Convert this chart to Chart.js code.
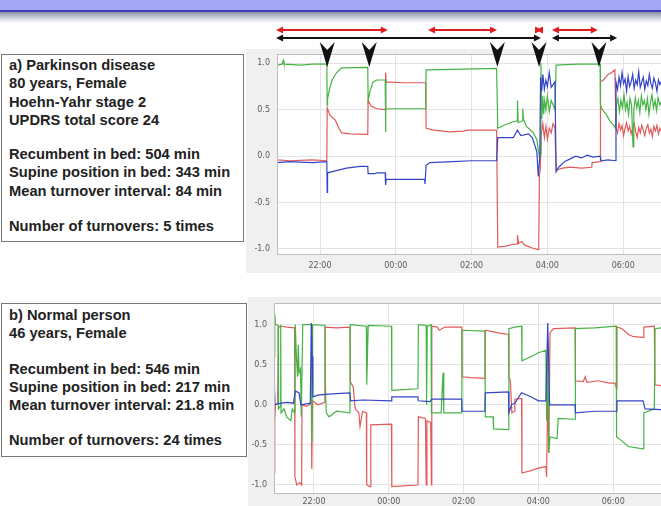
<!DOCTYPE html>
<html>
<head>
<meta charset="utf-8">
<script src="https://cdn.jsdelivr.net/npm/chart.js@4"></script>
<style>
  html, body { margin: 0; padding: 0; width: 661px; height: 506px; overflow: hidden; background: #fff; }
  body { position: relative; font-family: "Liberation Sans", Arial, sans-serif; }
  #titlebar { position: absolute; left: 0; top: 0; width: 661px; height: 10px; background: #a4a7f6; border-bottom: 2px solid #3c3cb4; }
  #shade { position: absolute; left: 0; top: 12px; width: 661px; height: 11px; background: linear-gradient(#8d90a3, #c9cddb 50%, #fff); }
  .box { position: absolute; border: 1px solid #7a7a7a; background: #fff; box-sizing: border-box; padding-left: 7px;
         font-weight: bold; font-size: 14.7px; color: #222; }
  .box div { height: 18.3px; line-height: 18.3px; white-space: nowrap; }
  .box .gap { height: 16px; }
  .panel { position: absolute; background: #f0f0f0; }
  canvas { position: absolute; }
</style>
</head>
<body>
<div id="titlebar"></div>
<div id="shade"></div>

<div class="box" style="left:1px; top:54px; width:243px; height:188px; padding-top:1px;">
  <div>a) Parkinson disease</div>
  <div>80 years, Female</div>
  <div>Hoehn-Yahr stage 2</div>
  <div>UPDRS total score 24</div>
  <div class="gap"></div>
  <div>Recumbent in bed: 504 min</div>
  <div>Supine position in bed: 343 min</div>
  <div>Mean turnover interval: 84 min</div>
  <div class="gap" style="height:17px"></div>
  <div>Number of turnovers: 5 times</div>
</div>

<div class="box" style="left:1px; top:303px; width:246px; height:154px; padding-top:2px;">
  <div>b) Normal person</div>
  <div>46 years, Female</div>
  <div class="gap" style="height:17px"></div>
  <div>Recumbent in bed: 546 min</div>
  <div>Supine position in bed: 217 min</div>
  <div>Mean turnover interval: 21.8 min</div>
  <div class="gap" style="height:17px"></div>
  <div>Number of turnovers: 24 times</div>
</div>

<div class="panel" style="left:246px; top:49px; width:420px; height:224px;"></div>
<div class="panel" style="left:248px; top:297px; width:420px; height:215px;"></div>

<canvas id="chartA" width="426" height="254" style="left:244px; top:20px;"></canvas>
<canvas id="chartB" width="426" height="216" style="left:244px; top:290px;"></canvas>

<script>
// time is in hours from the first midnight: 24 = 00:00, 26 = 02:00 ...
const hourTicks = [22, 24, 26, 28, 30];
const hourLabels = ['22:00', '00:00', '02:00', '04:00', '06:00'];
const valueTicks = [-1, -0.5, 0, 0.5, 1];

// a) Parkinson disease  [hour, value]
const aRed = [
  [20.86, 0.65], [20.87, -0.04], [21.2, -0.05], [21.8, -0.04], [22.18, -0.05], [22.19, 0.52], [22.26, 0.44],
  [22.4, 0.39], [22.5, 0.3], [22.57, 0.25], [22.8, 0.24], [23.26, 0.235], [23.27, 0.6], [23.35, 0.54],
  [23.5, 0.51], [23.72, 0.5], [23.73, 0.9], [23.75, 0.8], [24.2, 0.79], [24.79, 0.79], [24.8, 0.3],
  [25.0, 0.28], [25.43, 0.26], [25.78, 0.27], [25.9, 0.28], [26.66, 0.28], [26.69, -0.98], [26.9, -0.97],
  [27.1, -0.95], [27.2, -0.95], [27.21, -0.85], [27.24, -0.94], [27.32, -0.92], [27.4, -0.96], [27.6, -0.99],
  [27.77, -1.01], [27.79, -0.2], [27.81, -0.15], [27.84, 0.25], [27.88, 0.35], [27.92, 0.2], [27.96, 0.32],
  [28.0, 0.18], [28.05, 0.3], [28.1, 0.25], [28.15, 0.35], [28.2, 0.3], [28.23, -0.15], [28.4, -0.13],
  [28.6, -0.12], [28.9, -0.13], [29.17, -0.12], [29.18, -0.07], [29.39, -0.06], [29.4, 0.8], [29.48, 0.82],
  [29.6, 0.88], [29.7, 0.9], [29.78, 0.93], [29.81, 0.3], [29.85, 0.25], [29.89, 0.35], [29.93, 0.28],
  [29.97, 0.33], [30.01, 0.22], [30.05, 0.3], [30.09, 0.36], [30.13, 0.27], [30.17, 0.32], [30.21, 0.24],
  [30.25, 0.3], [30.29, 0.35], [30.33, 0.26], [30.37, 0.2], [30.41, 0.31], [30.45, 0.25], [30.49, 0.33],
  [30.53, 0.28], [30.57, 0.22], [30.61, 0.3], [30.65, 0.34], [30.69, 0.25], [30.73, 0.29], [30.77, 0.21],
  [30.81, 0.32], [30.85, 0.27], [30.89, 0.33], [30.93, 0.24], [30.97, 0.3], [31.0, 0.27]
];
const aGreen = [
  [20.86, 0.73], [20.87, 0.98], [21.0, 0.99], [21.03, 1.03], [21.05, 0.99], [21.5, 0.98], [21.8, 0.99],
  [22.18, 0.99], [22.19, 0.55], [22.2, 0.62], [22.25, 0.72], [22.32, 0.82], [22.44, 0.9], [22.57, 0.95],
  [23.26, 0.955], [23.27, 0.6], [23.32, 0.7], [23.4, 0.8], [23.5, 0.82], [23.72, 0.82], [23.73, 0.26],
  [23.74, 0.51], [24.2, 0.51], [24.79, 0.51], [24.8, 0.93], [25.5, 0.935], [26.66, 0.945], [26.69, 0.3],
  [26.9, 0.34], [27.1, 0.37], [27.2, 0.38], [27.21, 0.6], [27.23, 0.36], [27.34, 0.38], [27.35, 0.51],
  [27.37, 0.4], [27.45, 0.32], [27.63, 0.25], [27.72, 0.18], [27.79, -0.01], [27.81, 0.02], [27.83, 1.0],
  [27.85, 0.4], [27.88, 0.65], [27.9, 0.45], [27.93, 0.6], [27.96, 0.5], [28.0, 0.65], [28.05, 0.48],
  [28.1, 0.6], [28.15, 0.55], [28.2, 0.5], [28.23, 0.98], [28.8, 0.99], [29.39, 0.99], [29.4, 0.55],
  [29.45, 0.5], [29.55, 0.45], [29.65, 0.38], [29.75, 0.33], [29.8, 0.3], [29.82, 0.55], [29.86, 0.62],
  [29.9, 0.48], [29.94, 0.6], [29.98, 0.52], [30.02, 0.66], [30.06, 0.5], [30.1, 0.58], [30.14, 0.45],
  [30.18, 0.62], [30.22, 0.55], [30.26, 0.1], [30.28, 0.5], [30.32, 0.63], [30.36, 0.52], [30.4, 0.6],
  [30.44, 0.47], [30.48, 0.65], [30.52, 0.55], [30.56, 0.6], [30.6, 0.5], [30.64, 0.62], [30.68, 0.45],
  [30.72, 0.58], [30.76, 0.66], [30.8, 0.52], [30.84, 0.6], [30.88, 0.49], [30.92, 0.63], [30.97, 0.55],
  [31.0, 0.58]
];
const aBlue = [
  [20.86, -0.49], [20.87, -0.07], [21.2, -0.06], [21.8, -0.07], [22.18, -0.06], [22.19, -0.39], [22.2, -0.18],
  [22.4, -0.16], [22.7, -0.13], [23.06, -0.11], [23.26, -0.11], [23.27, -0.19], [23.45, -0.19], [23.5, -0.18],
  [23.72, -0.18], [23.73, -0.31], [23.75, -0.25], [24.2, -0.25], [24.76, -0.25], [24.77, -0.3], [24.8, -0.1],
  [24.9, -0.07], [25.5, -0.06], [26.0, -0.05], [26.66, -0.05], [26.69, 0.2], [27.1, 0.2], [27.21, 0.28],
  [27.3, 0.22], [27.5, 0.24], [27.6, 0.2], [27.72, 0.05], [27.76, -0.22], [27.8, 0.0], [27.82, 0.85],
  [27.85, 0.7], [27.88, 0.88], [27.92, 0.72], [27.96, 0.82], [28.0, 0.75], [28.05, 0.9], [28.1, 0.74],
  [28.2, 0.8], [28.23, -0.17], [28.3, -0.12], [28.45, -0.06], [28.6, -0.03], [28.75, 0.0], [28.9, -0.02],
  [29.05, 0.01], [29.2, -0.01], [29.39, 0.0], [29.42, -0.05], [29.6, -0.04], [29.8, -0.05], [29.81, 0.8],
  [29.85, 0.72], [29.89, 0.85], [29.93, 0.76], [29.97, 0.9], [30.01, 0.78], [30.05, 0.83], [30.09, 0.7],
  [30.13, 0.86], [30.17, 0.75], [30.21, 0.8], [30.25, 0.88], [30.29, 0.73], [30.33, 0.82], [30.37, 0.77],
  [30.41, 0.91], [30.45, 0.74], [30.49, 0.8], [30.53, 0.85], [30.57, 0.72], [30.61, 0.81], [30.65, 0.76],
  [30.69, 0.88], [30.73, 0.78], [30.77, 0.73], [30.81, 0.84], [30.85, 0.79], [30.89, 0.7], [30.93, 0.82],
  [30.97, 0.77], [31.0, 0.8]
];
// annotations above plot a
const turnoverTimes = [22.19, 23.3, 26.68, 27.78, 29.36];
const supineSpans = [[20.84, 23.79], [24.85, 26.67], [27.7, 27.86], [28.12, 29.33]];
const recumbentSpans = [[20.84, 27.83], [28.12, 29.84]];

// b) Normal person  [hour, value]
const bRed = [
  [20.94, -0.85], [20.95, -0.2], [20.97, 0.0], [21.03, 0.02], [21.05, 0.97], [21.14, 0.98], [21.27, 0.97],
  [21.48, 0.96], [21.49, -0.9], [21.54, -1.0], [21.62, -0.97], [21.67, -1.0], [21.68, 0.0], [21.8, -0.02],
  [21.93, 0.02], [21.94, -0.8], [21.96, 0.05], [22.1, 0.0], [22.29, 0.03], [22.3, 0.97], [22.6, 0.96],
  [22.96, 0.97], [22.97, 0.29], [23.05, 0.22], [23.1, -0.05], [23.2, -0.1], [23.23, -0.27], [23.3, -0.08],
  [23.4, -0.1], [23.41, -1.0], [23.5, -1.02], [23.52, -0.25], [24.07, -0.24], [24.08, -1.02], [24.78, -1.0],
  [24.79, -0.15], [24.98, -0.17], [25.0, -1.0], [25.02, -0.2], [25.12, -0.22], [25.14, -1.0], [25.15, 0.98],
  [25.3, 0.97], [25.35, 0.93], [25.5, 0.97], [25.95, 0.97], [25.96, 0.35], [26.2, 0.34], [26.57, 0.33],
  [26.58, 0.93], [26.9, 0.9], [27.0, 0.89], [27.2, 0.88], [27.21, 0.35], [27.25, 0.3], [27.29, -0.1],
  [27.36, -0.08], [27.37, 0.07], [27.55, 0.08], [27.56, -0.85], [27.8, -0.82], [28.0, -0.79], [28.2, -0.77],
  [28.22, -0.9], [28.25, 0.2], [28.28, -0.6], [28.31, 0.9], [28.4, 0.95], [28.98, 0.96], [28.99, 0.3],
  [29.2, 0.29], [29.25, 0.35], [29.3, 0.28], [29.6, 0.3], [29.9, 0.27], [30.05, 0.27], [30.09, 0.2],
  [30.1, 0.97], [30.23, 0.95], [30.4, 0.88], [30.54, 0.85], [30.8, 0.84], [30.82, 0.97], [31.1, 0.98],
  [31.12, 0.25], [31.28, 0.24]
];
const bGreen = [
  [20.94, 0.6], [20.95, 1.14], [20.97, 1.0], [21.04, 0.99], [21.05, -0.05], [21.1, -0.02], [21.11, 1.0],
  [21.12, -0.1], [21.2, -0.05], [21.27, -0.15], [21.38, -0.2], [21.42, -0.05], [21.48, -0.1], [21.49, 0.55],
  [21.5, 1.0], [21.53, 0.6], [21.56, 0.35], [21.58, 0.75], [21.6, 0.4], [21.64, 0.45], [21.66, -0.15],
  [21.7, 1.0], [21.93, 1.0], [21.94, -0.46], [21.96, 1.0], [22.29, 0.99], [22.3, 0.3], [22.33, -0.1],
  [22.4, -0.15], [22.6, -0.08], [22.96, -0.1], [22.97, 1.0], [23.4, 0.98], [23.41, 0.25], [23.45, 0.99],
  [24.07, 0.98], [24.08, 0.18], [24.4, 0.19], [24.78, 0.2], [24.79, 1.0], [25.0, 0.99], [25.01, 0.0],
  [25.03, 0.98], [25.13, 1.0], [25.14, -0.1], [25.4, -0.1], [25.45, 0.4], [25.47, -0.1], [25.95, -0.1],
  [25.96, 0.93], [26.57, 0.92], [26.58, -0.15], [26.79, -0.15], [26.8, -0.3], [27.2, -0.31], [27.21, 0.95],
  [27.37, 0.97], [27.55, 0.98], [27.56, 0.55], [27.8, 0.6], [28.0, 0.65], [28.2, 0.68], [28.22, -0.2],
  [28.25, 0.8], [28.28, -0.6], [28.31, -0.4], [28.5, -0.42], [28.53, -0.17], [28.98, -0.18], [28.99, 0.95],
  [29.5, 0.96], [30.08, 0.98], [30.09, -0.4], [30.23, -0.45], [30.4, -0.52], [30.8, -0.55], [30.82, -0.1],
  [31.1, -0.05], [31.12, 0.95], [31.28, 0.96]
];
const bBlue = [
  [20.94, 0.25], [20.96, 0.0], [21.1, 0.02], [21.3, 0.03], [21.45, 0.02], [21.5, 0.17], [21.6, 0.15],
  [21.65, 0.0], [21.9, 0.02], [21.93, 1.02], [21.95, 0.6], [21.97, 0.1], [22.1, 0.12], [22.3, 0.13],
  [22.6, 0.14], [22.96, 0.15], [22.98, 0.05], [23.3, 0.06], [24.07, 0.05], [24.08, 0.1], [24.78, 0.1],
  [24.79, 0.05], [25.1, 0.04], [25.15, 0.07], [25.95, 0.07], [25.96, -0.08], [26.57, -0.08], [26.58, 0.15],
  [27.2, 0.16], [27.21, -0.1], [27.28, 0.0], [27.37, 0.02], [27.55, 0.15], [27.8, 0.1], [28.0, 0.05],
  [28.2, 0.05], [28.25, 1.02], [28.3, 0.0], [28.98, 0.0], [28.99, -0.1], [29.5, -0.08], [30.08, -0.08],
  [30.1, 0.05], [30.8, 0.05], [30.85, -0.05], [31.28, -0.06]
];

const RED = '#e25a5a';
const GREEN = '#45b445';
const BLUE = '#3444c6';

// white plot area + grey frame
const framePlugin = {
  id: 'frame',
  beforeDraw(chart) {
    const a = chart.chartArea, ctx = chart.ctx;
    ctx.save();
    ctx.fillStyle = '#fff';
    ctx.fillRect(a.left, a.top, a.right - a.left, a.bottom - a.top);
    ctx.restore();
  },
  afterDraw(chart) {
    const a = chart.chartArea, ctx = chart.ctx;
    ctx.save();
    ctx.strokeStyle = '#bdbdbd';
    ctx.lineWidth = 1;
    ctx.strokeRect(Math.round(a.left) + 0.5, Math.round(a.top) + 0.5, a.right - a.left, a.bottom - a.top);
    ctx.restore();
  }
};

function doubleArrow(ctx, x1, x2, y, color) {
  const head = 7, half = 3.5;
  ctx.strokeStyle = color;
  ctx.fillStyle = color;
  ctx.lineWidth = 2;
  if (x2 - x1 > 2 * head) {
    ctx.beginPath();
    ctx.moveTo(x1 + head - 1, y);
    ctx.lineTo(x2 - head + 1, y);
    ctx.stroke();
  }
  ctx.beginPath();
  ctx.moveTo(x1, y); ctx.lineTo(x1 + head, y - half); ctx.lineTo(x1 + head, y + half);
  ctx.closePath(); ctx.fill();
  ctx.beginPath();
  ctx.moveTo(x2, y); ctx.lineTo(x2 - head, y - half); ctx.lineTo(x2 - head, y + half);
  ctx.closePath(); ctx.fill();
}

// posture periods and turnover markers above chart a
const markerPlugin = {
  id: 'markers',
  afterDraw(chart) {
    const ctx = chart.ctx, xs = chart.scales.x, top = chart.chartArea.top;
    ctx.save();
    supineSpans.forEach(([s, e]) => doubleArrow(ctx, xs.getPixelForValue(s), xs.getPixelForValue(e), top - 24, '#e01e1e'));
    recumbentSpans.forEach(([s, e]) => doubleArrow(ctx, xs.getPixelForValue(s), xs.getPixelForValue(e), top - 16, '#111'));
    ctx.fillStyle = '#111';
    turnoverTimes.forEach(t => {
      const x = xs.getPixelForValue(t), y0 = top - 12;
      ctx.beginPath();
      ctx.moveTo(x - 7.5, y0);
      ctx.lineTo(x, y0 + 8);
      ctx.lineTo(x + 7.5, y0);
      ctx.lineTo(x, y0 + 25);
      ctx.closePath();
      ctx.fill();
    });
    ctx.restore();
  }
};

function series(points, color) {
  return {
    data: points.map(([x, y]) => ({ x, y })),
    borderColor: color,
    borderWidth: 1.2,
    pointRadius: 0,
    tension: 0,
    fill: false
  };
}

function makeOptions(xMin, xMax, yMin, yMax, yWidth, xHeight, xPad, padTop) {
  const tickFont = { family: 'DejaVu Sans', size: 8 };
  return {
    responsive: false,
    animation: false,
    events: [],
    layout: { padding: { top: padTop, left: 0, right: 0, bottom: 0 } },
    plugins: { legend: { display: false }, tooltip: { enabled: false } },
    scales: {
      x: {
        type: 'linear', min: xMin, max: xMax,
        afterBuildTicks: s => { s.ticks = hourTicks.map(v => ({ value: v })); },
        afterFit: s => { s.height = xHeight; },
        ticks: { callback: (v, i) => hourLabels[i], color: '#5a5a5a', font: tickFont, padding: xPad, maxRotation: 0, autoSkip: false },
        grid: { color: '#e3e3e3', drawTicks: false },
        border: { display: false }
      },
      y: {
        min: yMin, max: yMax,
        afterBuildTicks: s => { s.ticks = valueTicks.map(v => ({ value: v })); },
        afterFit: s => { s.width = yWidth; },
        ticks: { callback: v => v.toFixed(1), color: '#5a5a5a', font: tickFont, padding: 7 },
        grid: { color: '#e3e3e3', drawTicks: false },
        border: { display: false }
      }
    }
  };
}

new Chart(document.getElementById('chartA'), {
  type: 'line',
  data: { datasets: [series(aBlue, BLUE), series(aGreen, GREEN), series(aRed, RED)] },
  options: makeOptions(20.8654, 31.235, -1.055, 1.10, 33, 20, 7, 34),
  plugins: [framePlugin, markerPlugin]
});

new Chart(document.getElementById('chartB'), {
  type: 'line',
  data: { datasets: [series(bBlue, BLUE), series(bGreen, GREEN), series(bRed, RED)] },
  options: makeOptions(20.9305, 31.519, -1.1, 1.27, 30, 13, 4, 13),
  plugins: [framePlugin]
});
</script>
</body>
</html>
